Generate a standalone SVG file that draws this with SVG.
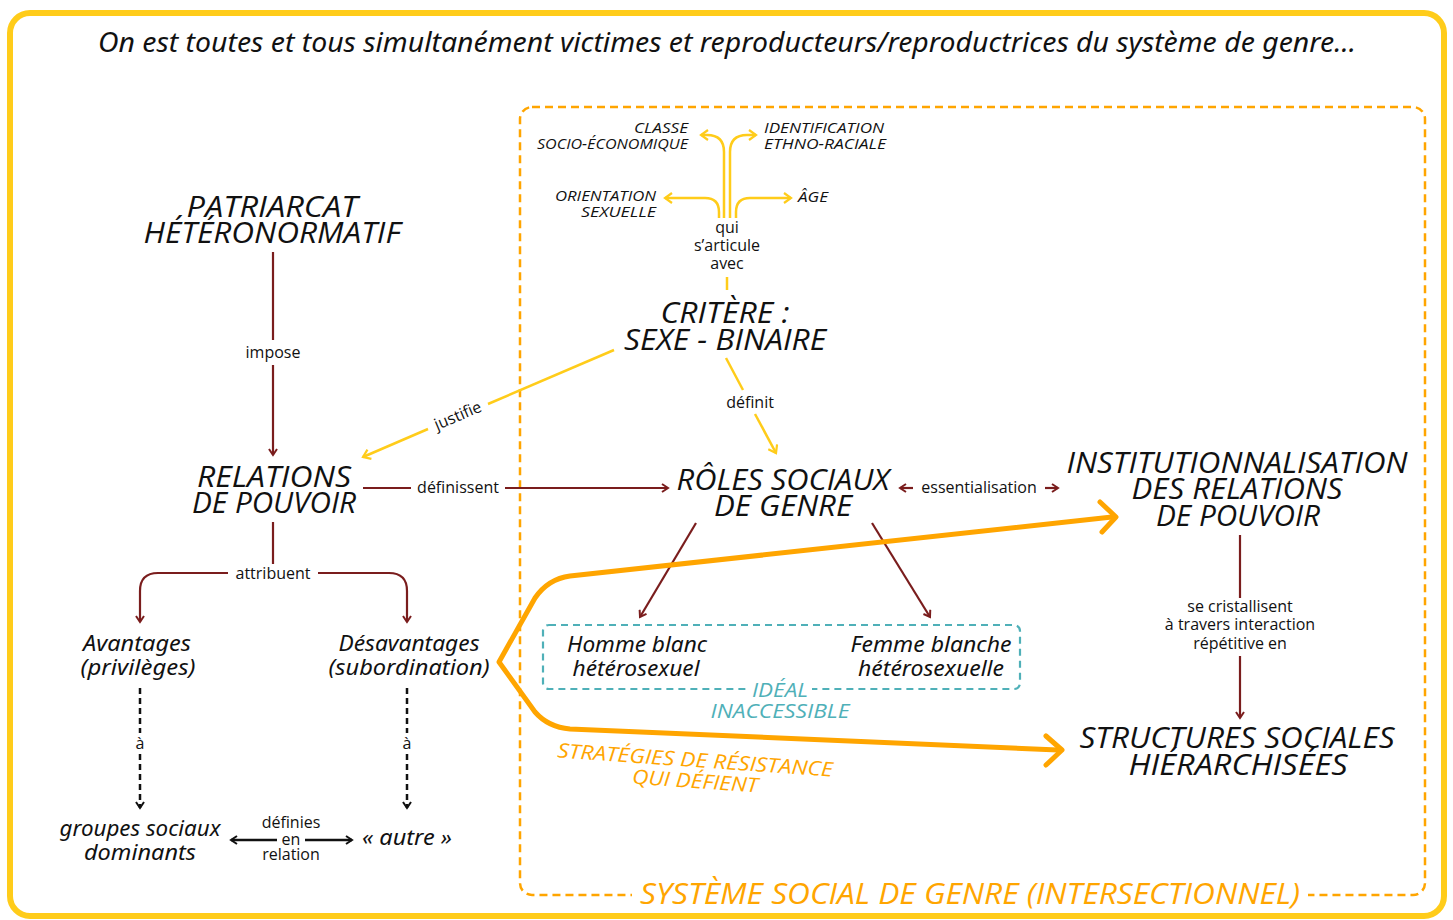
<svg xmlns="http://www.w3.org/2000/svg" width="1453" height="920" viewBox="0 0 1453 920">
<style>
.h{font-family:"Open Sans","Liberation Sans",sans-serif;font-style:italic;font-size:29px;fill:#111;text-anchor:middle}
.m{font-family:"Noto Sans","Liberation Sans",sans-serif;font-style:italic;font-size:22px;fill:#111;text-anchor:middle}
.s{font-family:"Open Sans","Liberation Sans",sans-serif;font-size:16px;fill:#111;text-anchor:middle}
.c{font-family:"Open Sans","Liberation Sans",sans-serif;font-style:italic;font-size:14px;fill:#111}
.r{fill:none;stroke:#7a1d1d;stroke-width:2.2}
.y{fill:none;stroke:#ffcc1a;stroke-width:2.5}
.k{fill:none;stroke:#111;stroke-width:2.5;stroke-dasharray:6 4}
.o{fill:none;stroke:#ffa500;stroke-width:5;stroke-linecap:round;stroke-linejoin:round}
</style>
<defs>
<marker id="ar" viewBox="0 0 10 10" refX="8" refY="5" markerWidth="10" markerHeight="10" markerUnits="userSpaceOnUse" orient="auto"><path d="M2,1 L8,5 L2,9" fill="none" stroke="#7a1d1d" stroke-width="2"/></marker>
<marker id="ay" viewBox="0 0 12 12" refX="10" refY="6" markerWidth="12" markerHeight="12" markerUnits="userSpaceOnUse" orient="auto"><path d="M3,1 L10,6 L3,11" fill="none" stroke="#ffcc1a" stroke-width="2.2"/></marker>
<marker id="ak" viewBox="0 0 10 10" refX="8" refY="5" markerWidth="10" markerHeight="10" markerUnits="userSpaceOnUse" orient="auto"><path d="M2,1 L8,5 L2,9" fill="none" stroke="#111" stroke-width="2"/></marker>
</defs>
<rect width="1453" height="920" fill="#fff"/>
<rect x="10" y="13" width="1434" height="903" rx="20" fill="none" stroke="#ffcc1a" stroke-width="6"/>
<g id="systeme">
<rect x="520" y="107" width="905" height="788" rx="12" fill="none" stroke="#ffa500" stroke-width="2.5" stroke-dasharray="8 5"/>
<rect x="632" y="885" width="676" height="20" fill="#fff"/>
<text x="970" y="904" font-family="Open Sans, Liberation Sans, sans-serif" font-style="italic" font-size="29" fill="#ffa500" text-anchor="middle" textLength="660" lengthAdjust="spacingAndGlyphs">SYSTÈME SOCIAL DE GENRE (INTERSECTIONNEL)</text>
</g>
<g id="titre">
<text x="727" y="52" font-family="Noto Sans, Liberation Sans, sans-serif" font-style="italic" font-size="27" fill="#111" text-anchor="middle" textLength="1258" lengthAdjust="spacingAndGlyphs">On est toutes et tous simultanément victimes et reproducteurs/reproductrices du système de genre...</text>
</g>
<g id="connectors">
<path class="r" d="M273,252 V340"/>
<path class="r" d="M273,365 V455" marker-end="url(#ar)"/>
<path class="r" d="M363,488 H411"/>
<path class="r" d="M505,488 H668" marker-end="url(#ar)"/>
<path class="y" d="M614,350 L488,404"/>
<path class="y" d="M428,429 L363,457" marker-end="url(#ay)"/>
<path class="r" d="M273,522 V564"/>
<path class="r" d="M228,573 H158 Q140,573 140,591 V622" marker-end="url(#ar)"/>
<path class="r" d="M318,573 H389 Q407,573 407,591 V622" marker-end="url(#ar)"/>
<path class="k" d="M140,688 V733"/>
<path class="k" d="M140,754 V808" marker-end="url(#ak)"/>
<path class="k" d="M407,688 V733"/>
<path class="k" d="M407,754 V808" marker-end="url(#ak)"/>
<path d="M277,840 H231" fill="none" stroke="#111" stroke-width="2.5" marker-end="url(#ak)"/>
<path d="M305,840 H352" fill="none" stroke="#111" stroke-width="2.5" marker-end="url(#ak)"/>
<path class="y" d="M719,218 V212 Q719,198 705,198 H665" marker-end="url(#ay)"/>
<path class="y" d="M724,218 V152 Q724,135 707,135 H701" marker-end="url(#ay)"/>
<path class="y" d="M730,218 V152 Q730,135 747,135 H756" marker-end="url(#ay)"/>
<path class="y" d="M736,218 V212 Q736,198 750,198 H791" marker-end="url(#ay)"/>
<path class="y" d="M727,277 V290"/>
<path class="y" d="M726,358 L743,390"/>
<path class="y" d="M755,414 L776,453" marker-end="url(#ay)"/>
<path class="r" d="M913,488 H900" marker-end="url(#ar)"/>
<path class="r" d="M1045,488 H1058" marker-end="url(#ar)"/>
<path class="r" d="M1240,535 V598"/>
<path class="r" d="M1240,656 V718" marker-end="url(#ar)"/>
<path class="r" d="M696,523 L640,617" marker-end="url(#ar)"/>
<path class="r" d="M872,523 L930,617" marker-end="url(#ar)"/>
<path class="o" d="M1112,517 L570,576 Q548,579 535,598 L499,662 L535,712 Q548,727 570,729 L1058,750"/>
<path class="o" d="M1100,502 L1116,517 L1102,532"/>
<path class="o" d="M1046,736 L1062,750 L1046,765"/>
</g>
<g id="labels">
<text class="s" x="273" y="358">impose</text>
<text class="s" x="458" y="493">définissent</text>
<text class="s" x="458" y="421" transform="rotate(-23 458 416)">justifie</text>
<text class="s" x="273" y="579">attribuent</text>
<text class="s" x="140" y="749">à</text>
<text class="s" x="407" y="749">à</text>
<text class="s" x="291" y="828">définies</text>
<text class="s" x="291" y="845">en</text>
<text class="s" x="291" y="860">relation</text>
<text class="s" x="727" y="233">qui</text>
<text class="s" x="727" y="251">s’articule</text>
<text class="s" x="727" y="269">avec</text>
<text class="s" x="750" y="408">définit</text>
<text class="s" x="979" y="493">essentialisation</text>
<text class="s" x="1240" y="612">se cristallisent</text>
<text class="s" x="1240" y="630">à travers interaction</text>
<text class="s" x="1240" y="649">répétitive en</text>
</g>
<g id="patriarcat">
<text class="h" x="272" y="217" textLength="171" lengthAdjust="spacingAndGlyphs">PATRIARCAT</text>
<text class="h" x="272" y="243" textLength="257" lengthAdjust="spacingAndGlyphs">HÉTÉRONORMATIF</text>
</g>
<g id="relations">
<text class="h" x="274" y="487" textLength="154" lengthAdjust="spacingAndGlyphs">RELATIONS</text>
<text class="h" x="274" y="513" textLength="164" lengthAdjust="spacingAndGlyphs">DE POUVOIR</text>
</g>
<g id="critere">
<text class="h" x="725" y="323" textLength="129" lengthAdjust="spacingAndGlyphs">CRITÈRE :</text>
<text class="h" x="725" y="350" textLength="202" lengthAdjust="spacingAndGlyphs">SEXE - BINAIRE</text>
</g>
<g id="roles">
<text class="h" x="783" y="490" textLength="213" lengthAdjust="spacingAndGlyphs">RÔLES SOCIAUX</text>
<text class="h" x="783" y="516" textLength="138" lengthAdjust="spacingAndGlyphs">DE GENRE</text>
</g>
<g id="institutionnalisation">
<text class="h" x="1237" y="473" textLength="341" lengthAdjust="spacingAndGlyphs">INSTITUTIONNALISATION</text>
<text class="h" x="1237" y="499" textLength="211" lengthAdjust="spacingAndGlyphs">DES RELATIONS</text>
<text class="h" x="1238" y="526" textLength="164" lengthAdjust="spacingAndGlyphs">DE POUVOIR</text>
</g>
<g id="structures">
<text class="h" x="1237" y="748" textLength="315" lengthAdjust="spacingAndGlyphs">STRUCTURES SOCIALES</text>
<text class="h" x="1238" y="775" textLength="219" lengthAdjust="spacingAndGlyphs">HIÉRARCHISÉES</text>
</g>
<g id="avantages">
<text class="m" x="137" y="651" textLength="108" lengthAdjust="spacingAndGlyphs">Avantages</text>
<text class="m" x="138" y="675" textLength="115" lengthAdjust="spacingAndGlyphs">(privilèges)</text>
</g>
<g id="desavantages">
<text class="m" x="409" y="651" textLength="141" lengthAdjust="spacingAndGlyphs">Désavantages</text>
<text class="m" x="409" y="675" textLength="161" lengthAdjust="spacingAndGlyphs">(subordination)</text>
</g>
<g id="groupes">
<text class="m" x="140" y="836" textLength="161" lengthAdjust="spacingAndGlyphs">groupes sociaux</text>
<text class="m" x="140" y="860" textLength="112" lengthAdjust="spacingAndGlyphs">dominants</text>
</g>
<g id="autre">
<text class="m" x="407" y="845" textLength="90" lengthAdjust="spacingAndGlyphs">« autre »</text>
</g>
<g id="criteres-intersection">
<text class="c" x="688" y="133" text-anchor="end" textLength="54" lengthAdjust="spacingAndGlyphs">CLASSE</text>
<text class="c" x="688" y="149" text-anchor="end" textLength="151" lengthAdjust="spacingAndGlyphs">SOCIO-ÉCONOMIQUE</text>
<text class="c" x="764" y="133" textLength="120" lengthAdjust="spacingAndGlyphs">IDENTIFICATION</text>
<text class="c" x="764" y="149" textLength="122" lengthAdjust="spacingAndGlyphs">ETHNO-RACIALE</text>
<text class="c" x="656" y="201" text-anchor="end" textLength="101" lengthAdjust="spacingAndGlyphs">ORIENTATION</text>
<text class="c" x="656" y="217" text-anchor="end" textLength="75" lengthAdjust="spacingAndGlyphs">SEXUELLE</text>
<text class="c" x="798" y="202" textLength="30" lengthAdjust="spacingAndGlyphs">ÂGE</text>
</g>
<g id="ideal">
<rect x="543" y="625" width="477" height="64" rx="6" fill="none" stroke="#4fb0b8" stroke-width="2.2" stroke-dasharray="7 5"/>
<rect x="748" y="680" width="64" height="18" fill="#fff"/>
<text x="780" y="697" font-family="Open Sans, Liberation Sans, sans-serif" font-style="italic" font-size="20" fill="#4fb0b8" text-anchor="middle" textLength="56" lengthAdjust="spacingAndGlyphs">IDÉAL</text>
<text x="780" y="718" font-family="Open Sans, Liberation Sans, sans-serif" font-style="italic" font-size="20" fill="#4fb0b8" text-anchor="middle" textLength="139" lengthAdjust="spacingAndGlyphs">INACCESSIBLE</text>
<text class="m" x="637" y="652" textLength="140" lengthAdjust="spacingAndGlyphs">Homme blanc</text>
<text class="m" x="636" y="676" textLength="127" lengthAdjust="spacingAndGlyphs">hétérosexuel</text>
<text class="m" x="931" y="652" textLength="161" lengthAdjust="spacingAndGlyphs">Femme blanche</text>
<text class="m" x="931" y="676" textLength="146" lengthAdjust="spacingAndGlyphs">hétérosexuelle</text>
</g>
<g id="strategies">
<text x="695" y="767" transform="rotate(4 695 762)" font-family="Open Sans, Liberation Sans, sans-serif" font-style="italic" font-size="20" fill="#ffa500" text-anchor="middle" textLength="276" lengthAdjust="spacingAndGlyphs">STRATÉGIES DE RÉSISTANCE</text>
<text x="695" y="788" transform="rotate(4 695 783)" font-family="Open Sans, Liberation Sans, sans-serif" font-style="italic" font-size="20" fill="#ffa500" text-anchor="middle" textLength="126" lengthAdjust="spacingAndGlyphs">QUI DÉFIENT</text>
</g>
</svg>
